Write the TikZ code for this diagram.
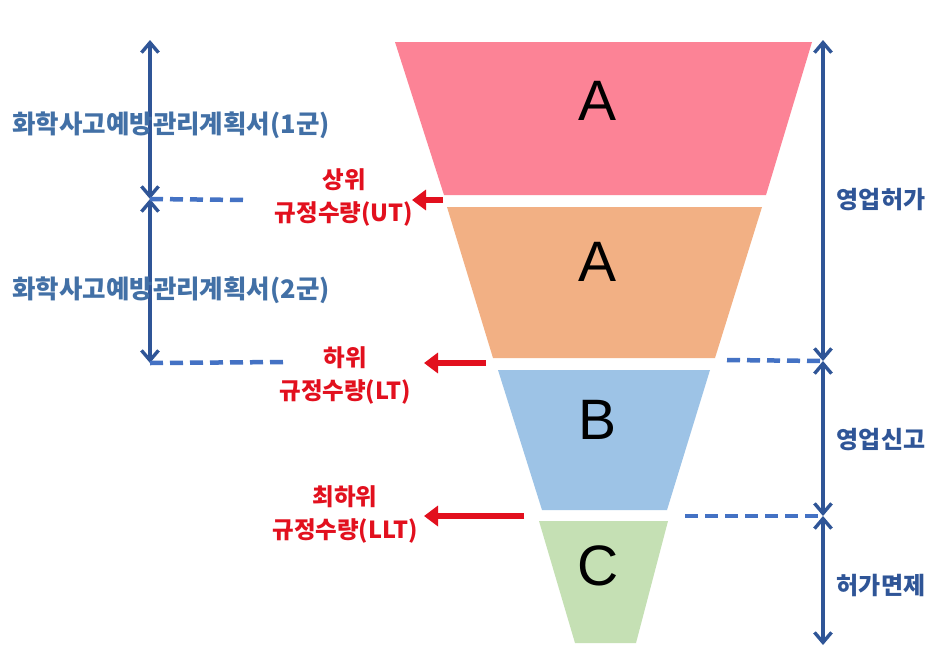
\documentclass[tikz,border=0pt]{standalone}
\usepackage{fontspec}
\newfontfamily\kr{Noto Sans CJK KR}
\newfontfamily\lat{Liberation Sans}
\usetikzlibrary{arrows.meta}
\definecolor{pinkF}{HTML}{FC8396}
\definecolor{orangeF}{HTML}{F2B084}
\definecolor{blueF}{HTML}{9DC3E6}
\definecolor{greenF}{HTML}{C5E0B4}
\definecolor{navy}{HTML}{2F5597}
\definecolor{steel}{HTML}{4270A6}
\definecolor{dashblue}{HTML}{4472C4}
\definecolor{redA}{HTML}{E2101E}
\tikzset{
  letter/.style={inner sep=0pt, font=\lat\fontsize{57}{60}\selectfont, text=black},
  sidelbl/.style={inner sep=0pt, font=\kr\bfseries\fontsize{24}{28}\selectfont, text=navy},
  planlbl/.style={inner sep=0pt, font=\kr\bfseries\fontsize{25.5}{29}\selectfont, text=steel},
  redlbl/.style={inner sep=0pt, align=center, font=\kr\bfseries\fontsize{23.5}{33}\selectfont, text=redA},
  span/.style={draw=navy, line width=3.4pt, {Straight Barb[length=10pt,width=17pt]}-{Straight Barb[length=10pt,width=17pt]}},
  dashline/.style={draw=dashblue, line width=4.5pt, dash pattern=on 13pt off 7pt},
  redarrow/.style={draw=redA, line width=6pt, -{Triangle[length=14pt,width=20pt]}}
}
\begin{document}
\begin{tikzpicture}[x=1pt,y=-1pt]
\useasboundingbox[fill=white] (0,0) rectangle (931,646);
% funnel layers
\fill[pinkF]   (395,42)  -- (812,42)  -- (766,195) -- (444,195) -- cycle;
\fill[orangeF] (447,207) -- (762,207) -- (715,358) -- (493,358) -- cycle;
\fill[blueF]   (498,370) -- (710,370) -- (667,510) -- (542,510) -- cycle;
\fill[greenF]  (539,521) -- (668,521) -- (636,643) -- (575,643) -- cycle;
\node[letter] (a1) at (598,101) {A};
\node[letter] (a2) at (598,262) {A};
\node[letter] (b)  at (598,420) {B};
\node[letter] (c)  at (598,566) {C};
% right spans
\coordinate (r0) at (823,40);
\coordinate (r1) at (823,361);
\coordinate (r2) at (823,516);
\coordinate (r3) at (823,645);
\draw[span] (r0) -- (r1);
\draw[span] (r1) -- (r2);
\draw[span] (r2) -- (r3);
\coordinate (rd1) at (727,360);
\coordinate (rd2) at (685,516);
\draw[dashline] (rd1) -- (r1);
\draw[dashline] (rd2) -- (r2);
\node[sidelbl] (perm) at (881,200) {영업허가};
\node[sidelbl] (rep)  at (881,440) {영업신고};
\node[sidelbl] (ex)   at (881,585) {허가면제};
% left spans
\coordinate (l0) at (150,40);
\coordinate (l1) at (150,199);
\coordinate (l2) at (150,363);
\draw[span] (l0) -- (l1);
\draw[span] (l1) -- (l2);
\coordinate (ld1) at (245,200);
\coordinate (ld2) at (285,362);
\draw[dashline] (l1) -- (ld1);
\draw[dashline] (l2) -- (ld2);
\node[planlbl] (p1) at (171,125) {화학사고예방관리계획서(1군)};
\node[planlbl] (p2) at (171,290) {화학사고예방관리계획서(2군)};
% red thresholds
\node[redlbl] (ut)  at (344,197) {상위\\규정수량(UT)};
\node[redlbl] (lt)  at (345,375) {하위\\규정수량(LT)};
\node[redlbl] (llt) at (345,514) {최하위\\규정수량(LLT)};
\coordinate (u0) at (443,200);
\coordinate (u1) at (412,200);
\coordinate (m0) at (486,363);
\coordinate (m1) at (424,363);
\coordinate (n0) at (524,516);
\coordinate (n1) at (424,516);
\draw[redarrow] (u0) -- (u1);
\draw[redarrow] (m0) -- (m1);
\draw[redarrow] (n0) -- (n1);
\end{tikzpicture}
\end{document}
